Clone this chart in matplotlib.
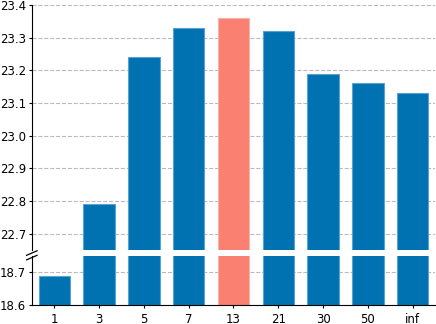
import matplotlib
matplotlib.use("Agg")
import matplotlib.pyplot as plt
import numpy as np

categories = ["1", "3", "5", "7", "13", "21", "30", "50", "inf"]
values = [18.69, 22.79, 23.24, 23.33, 23.36, 23.32, 23.19, 23.16, 23.13]
highlight = "13"

blue = "#0072B2"
salmon = "#FA8072"
colors = [salmon if c == highlight else blue for c in categories]
edges = ["#f4b5ab" if c == highlight else "#5aa3cf" for c in categories]

fig = plt.figure(figsize=(4.36, 3.24), dpi=100)
ax_top = fig.add_axes([0.073, 0.228, 0.925, 0.757])
ax_bot = fig.add_axes([0.073, 0.059, 0.925, 0.151])

x = np.arange(len(categories))
for ax in (ax_top, ax_bot):
    ax.bar(x, values, width=0.7, color=colors, edgecolor=edges, linewidth=0.8, zorder=2)
    ax.set_xlim(-0.5, len(categories) - 0.5)
    ax.grid(axis="y", linestyle="--", color="#bbbbbb", linewidth=0.8, zorder=0)
    ax.set_axisbelow(True)
    ax.spines["top"].set_visible(False)
    ax.spines["right"].set_visible(False)
    ax.tick_params(labelsize=8.5, length=2.5, pad=1.5)

ax_top.set_ylim(22.65, 23.4)
ax_top.set_yticks([22.7, 22.8, 22.9, 23.0, 23.1, 23.2, 23.3, 23.4])
ax_top.spines["bottom"].set_visible(False)
ax_top.tick_params(axis="x", bottom=False, labelbottom=False)

ax_bot.set_ylim(18.6, 18.75)
ax_bot.set_yticks([18.6, 18.7])
ax_bot.set_xticks(x)
ax_bot.set_xticklabels(categories)
ax_bot.tick_params(axis="x", pad=3)

# break marks
d = 0.012
kw = dict(color="k", clip_on=False, linewidth=0.9)
fig.add_artist(plt.Line2D([0.073 - d, 0.073 + d], [0.212, 0.226], **kw))
fig.add_artist(plt.Line2D([0.073 - d, 0.073 + d], [0.198, 0.212], **kw))

fig.savefig("out.png", dpi=100)
